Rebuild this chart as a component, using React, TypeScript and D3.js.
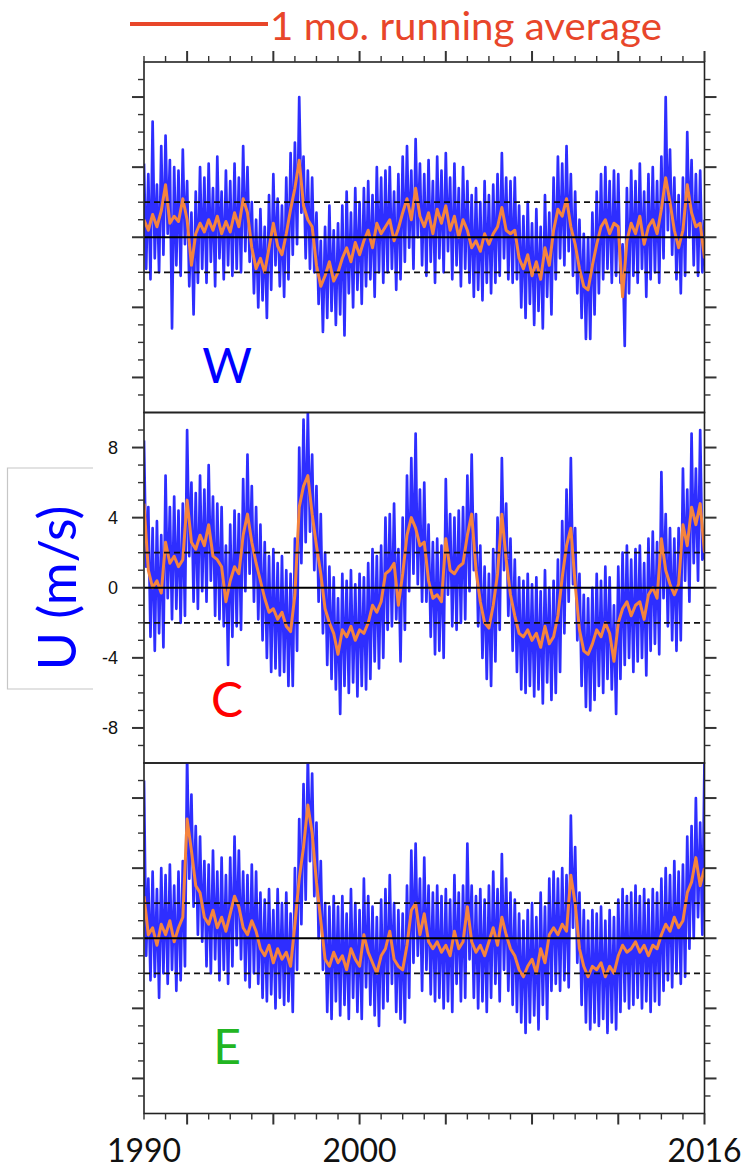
import React from "react";
import * as d3 from "d3";

// ---------------- data ----------------
const START_YEAR = 1990;
const END_YEAR = 2016;
const DAILY_STEP = 0.1; // sampling interval (years) of the blue series
const MONTHLY_STEP = 0.2; // sampling interval (years) of the 1 mo. running average

const panelNames = ["W", "C", "E"];
const panelColors = ["#0000ff", "#ff0000", "#22b522"];
const letterLevels = [-8.3, -7.4, -7.2];
const yMajorTicks = [-8, -4, 0, 4, 8];
const yMinorTicks = d3.range(-9, 10);
const yTickLabels = ["-8", "-4", "0", "4", "8"];
const xMinorTicks = d3.range(1990, 2017);
const xMajorTicks = [1992, 1996, 2000, 2004, 2008, 2012, 2016];
const xTickLabels = [1990, 2000, 2016];
const thresholds = [-2, 2];
const legendLabel = "1 mo. running average";
const yTitle = "U (m/s)";

const blueW = [
  4.2, -1.8, 3.6, -2.4, 6.6, -1.2, 3.0, -2.0, 5.2, -1.0,
  5.8, 0.2, 4.4, -5.2, 4.0, -1.6, 3.8, -2.2, 5.0, -0.4,
  3.2, -2.8, 1.4, -4.4, 2.6, -2.6, 4.0, -1.8, 3.4, -2.6,
  4.2, -1.4, 2.8, -2.8, 4.6, -1.2, 2.6, -2.4, 3.8, -1.6,
  3.2, -2.2, 4.2, -1.8, 3.4, -2.0, 5.2, -0.8, 4.0, -1.4,
  2.0, -3.2, 1.0, -4.0, 1.6, -3.6, 0.6, -4.6, 2.4, -3.0,
  3.6, -1.6, 2.2, -2.8, 1.8, -3.4, 3.4, -2.4, 4.8, -1.0,
  5.4, -0.4, 8.0, 1.4, 4.6, -1.2, 3.8, -1.8, 3.4, -2.0,
  1.4, -3.8, -0.2, -5.4, 0.6, -4.6, 1.8, -4.2, 0.4, -5.0,
  0.8, -4.4, 1.8, -5.6, 2.6, -3.2, 1.4, -4.0, 2.8, -3.0,
  2.0, -3.8, 2.8, -2.8, 3.2, -2.4, 2.4, -3.4, 4.0, -2.0,
  3.4, -2.6, 3.8, -2.0, 4.0, -1.8, 2.6, -3.0, 3.6, -2.4,
  4.6, -1.4, 5.2, -0.6, 3.8, -1.8, 5.6, 0.0, 4.2, -1.6,
  3.6, -2.2, 4.4, -1.4, 3.2, -2.6, 4.6, -1.2, 3.8, -2.0,
  4.8, -0.8, 3.4, -2.4, 4.2, -1.6, 2.8, -2.8, 4.0, -1.8,
  3.2, -2.6, 2.4, -3.4, 2.8, -3.0, 2.0, -3.6, 3.2, -2.6,
  2.4, -3.2, 3.0, -2.6, 3.6, -2.2, 4.8, -1.2, 3.4, -2.4,
  3.2, -2.6, 3.4, -2.4, 1.8, -4.0, 1.2, -4.6, 2.0, -3.8,
  0.8, -5.0, 1.6, -4.2, 0.6, -5.2, 2.4, -3.4, 1.4, -4.4,
  3.4, -2.4, 4.6, -1.2, 4.2, -1.6, 5.2, -0.8, 3.6, -2.2,
  2.6, -3.2, 1.0, -4.6, 0.2, -5.8, 0.0, -5.8, 1.4, -4.4,
  2.6, -3.2, 3.6, -2.4, 4.0, -1.8, 3.2, -2.6, 3.8, -2.2,
  3.6, -2.6, -0.4, -6.2, 2.8, -3.2, 3.8, -2.2, 3.2, -2.6,
  4.2, -1.8, 2.6, -3.4, 3.6, -2.4, 4.0, -2.0, 3.2, -2.6,
  4.6, -1.2, 8.0, 0.4, 5.0, -1.0, 3.4, -2.4, 2.4, -3.2,
  3.4, -2.2, 6.0, 0.0, 4.4, -1.6, 3.6, -2.2, 3.8, -2.0,
  1.0,
];

const orangeW = [
  1.0, 0.4, 1.3, 0.6, 1.5,
  3.0, 0.8, 1.2, 0.9, 2.2,
  1.0, -1.6, 0.2, 0.8, 0.3,
  1.0, 0.4, 1.2, 0.2, 0.9,
  0.3, 1.4, 0.6, 2.2, 1.4,
  -0.6, -1.8, -1.2, -2.0, -0.6,
  0.8, -0.5, -1.0, 0.2, 1.6,
  2.8, 4.4, 1.8, 1.0, 0.6,
  -1.6, -2.8, -2.2, -1.4, -2.5,
  -2.0, -1.2, -0.6, -1.4, -0.3,
  -1.0, -0.2, 0.4, -0.6, 0.8,
  0.2, 0.6, 1.0, -0.2, 0.5,
  1.4, 2.2, 1.0, 2.8, 1.2,
  0.6, 1.4, 0.2, 1.6, 0.8,
  1.8, 0.4, 1.2, 0.0, 1.0,
  0.4, -0.6, -0.2, -0.8, 0.2,
  -0.4, 0.2, 0.6, 1.7, 0.4,
  0.2, 0.4, -1.2, -1.8, -1.0,
  -2.2, -1.4, -2.4, -0.6, -1.6,
  0.4, 1.6, 1.2, 2.2, 0.6,
  -0.4, -1.8, -2.8, -3.0, -1.6,
  -0.4, 0.6, 1.0, 0.2, 0.8,
  0.6, -3.4, -0.2, 0.8, 0.2,
  1.2, -0.4, 0.6, 1.0, 0.2,
  1.6, 3.4, 2.0, 0.4, -0.6,
  0.4, 3.0, 1.4, 0.6, 0.8,
  -1.2,
];

const blueC = [
  8.4, 1.2, 4.6, -2.8, 3.4, -3.6, 3.8, -2.6, 3.0, -3.4,
  6.4, -0.6, 4.6, -1.8, 5.2, -1.2, 4.4, -2.0, 4.8, -1.6,
  9.0, 1.8, 6.0, -0.8, 5.4, -1.2, 6.4, -0.2, 5.6, -0.8,
  7.0, 0.4, 5.2, -1.6, 4.8, -1.8, 4.6, -2.2, 2.4, -4.4,
  3.6, -2.8, 4.4, -2.2, 4.2, -2.4, 6.2, -0.2, 7.6, 0.8,
  5.8, -0.8, 4.6, -1.8, 3.6, -3.0, 2.6, -4.0, 1.8, -4.8,
  2.2, -4.6, 1.4, -5.0, 1.8, -4.8, 1.0, -5.6, 0.8, -5.6,
  2.8, -3.6, 8.0, 1.4, 9.6, 2.6, 10.0, 3.2, 7.6, 1.0,
  5.8, -0.8, 4.2, -2.6, 2.0, -4.4, 1.2, -5.2, 0.6, -5.8,
  -0.6, -7.2, 0.8, -5.6, 0.4, -6.0, 1.0, -5.4, 0.2, -6.2,
  0.8, -5.6, 0.6, -5.8, 1.4, -5.2, 2.2, -4.2, 1.8, -4.6,
  2.4, -4.0, 4.0, -2.4, 4.2, -2.2, 4.8, -1.8, 2.2, -4.2,
  4.0, -2.4, 6.4, -0.2, 7.4, 0.8, 8.8, 0.2, 5.6, -0.8,
  6.0, -0.8, 3.6, -2.8, 2.6, -3.8, 2.8, -3.6, 2.4, -4.0,
  6.2, -0.4, 4.2, -2.2, 4.0, -2.4, 4.4, -2.0, 4.6, -1.8,
  6.4, -0.2, 7.6, 1.0, 4.2, -2.2, 2.4, -4.0, 1.2, -5.2,
  0.8, -5.6, 2.2, -4.2, 4.0, -2.4, 7.4, 1.0, 4.8, -1.6,
  2.8, -3.6, 1.6, -4.8, 0.6, -5.8, 0.4, -6.0, 0.8, -5.6,
  0.2, -6.2, 0.6, -5.8, -0.2, -6.6, 1.0, -5.4, 0.0, -6.4,
  0.4, -6.0, 1.6, -4.8, 3.8, -2.6, 5.6, -0.8, 7.4, 0.2,
  3.4, -3.0, 0.8, -5.6, -0.4, -6.8, -0.6, -7.0, 0.0, -6.4,
  0.8, -5.6, 0.4, -6.0, 1.2, -5.2, 0.6, -5.8, -1.0, -7.2,
  1.2, -5.2, 2.0, -4.4, 2.4, -4.0, 1.6, -4.8, 2.2, -4.2,
  2.4, -4.0, 1.4, -5.0, 2.8, -3.6, 3.2, -3.2, 2.6, -3.8,
  6.6, -0.6, 4.2, -2.2, 3.4, -3.0, 2.8, -3.6, 3.4, -3.0,
  6.8, 0.4, 5.6, -0.8, 8.8, 1.4, 6.8, 0.4, 9.0, 1.6,
  2.0,
];

const orangeC = [
  4.8, 1.0, 0.0, 0.4, -0.3,
  2.6, 1.4, 1.8, 1.2, 1.6,
  5.0, 2.6, 2.2, 3.0, 2.4,
  3.6, 1.8, 1.6, 1.2, -0.8,
  0.4, 1.2, 0.8, 3.0, 4.2,
  2.6, 1.4, 0.4, -0.6, -1.4,
  -1.2, -1.8, -1.4, -2.2, -2.5,
  -0.4, 4.6, 5.8, 6.4, 4.2,
  2.4, 0.8, -1.2, -2.0, -2.6,
  -3.8, -2.4, -2.8, -2.2, -3.0,
  -2.4, -2.6, -2.0, -1.0, -1.4,
  -0.8, 0.8, 1.0, 1.4, -1.0,
  0.8, 3.0, 4.0, 3.4, 2.4,
  2.6, 0.4, -0.6, -0.4, -0.8,
  2.8, 1.0, 0.8, 1.2, 1.4,
  3.0, 4.2, 1.0, -0.8, -2.0,
  -2.3, -1.0, 0.8, 4.2, 1.6,
  -0.4, -1.6, -2.6, -2.8, -2.4,
  -3.0, -2.6, -3.4, -2.2, -3.2,
  -2.8, -1.6, 0.6, 2.4, 3.4,
  0.2, -2.4, -3.6, -3.8, -3.2,
  -2.4, -2.8, -2.0, -2.6, -4.2,
  -2.0, -1.2, -0.8, -1.6, -1.0,
  -0.8, -1.8, -0.4, 0.0, -0.6,
  2.8, 1.0, 0.2, -0.4, 0.2,
  3.6, 2.4, 4.6, 3.6, 4.8,
  2.0,
];

const blueE = [
  9.0, -1.0, 3.4, -2.4, 3.8, -2.2, 2.8, -3.4, 4.0, -2.0,
  3.6, -2.6, 4.2, -1.8, 3.0, -3.0, 3.8, -2.4, 4.4, -1.6,
  10.4, 3.4, 8.2, 1.8, 6.4, 0.2, 5.8, -0.2, 4.4, -1.6,
  4.2, -2.0, 5.0, -1.2, 3.8, -2.4, 4.6, -1.8, 3.6, -2.6,
  4.6, -1.6, 5.8, -0.4, 5.0, -1.2, 3.8, -2.4, 3.6, -2.8,
  4.2, -2.0, 3.8, -2.6, 2.6, -3.4, 2.2, -3.6, 2.8, -3.2,
  1.6, -4.0, 2.8, -3.4, 2.0, -3.8, 2.6, -3.6, 1.4, -4.2,
  4.0, -1.8, 6.8, 0.8, 8.8, 2.2, 10.4, 4.4, 9.4, 2.4,
  6.6, 0.0, 4.4, -1.8, 2.0, -4.2, 1.8, -4.6, 2.4, -3.6,
  1.8, -4.4, 2.4, -3.8, 1.4, -4.6, 2.8, -3.4, 2.0, -4.2,
  1.6, -4.6, 3.4, -2.8, 2.4, -3.8, 1.8, -4.4, 1.2, -5.0,
  2.2, -4.0, 2.8, -3.6, 3.6, -2.6, 2.0, -4.2, 1.6, -4.6,
  1.4, -4.8, 3.0, -3.4, 5.0, -1.4, 5.4, -1.0, 3.4, -3.0,
  4.6, -1.8, 3.0, -3.2, 2.6, -3.6, 3.0, -3.4, 2.4, -4.0,
  2.8, -3.6, 2.2, -4.2, 3.6, -2.6, 2.6, -3.6, 3.0, -3.4,
  5.4, -1.2, 3.0, -3.4, 2.4, -4.0, 2.8, -3.6, 2.2, -4.2,
  3.0, -3.4, 3.8, -2.6, 2.8, -3.6, 4.8, -1.8, 3.4, -3.0,
  2.6, -3.8, 2.2, -4.2, 1.4, -4.8, 1.0, -5.4, 1.6, -4.8,
  2.0, -4.4, 1.2, -5.2, 2.6, -3.8, 1.8, -4.6, 3.4, -3.0,
  3.8, -2.6, 3.4, -3.0, 4.0, -2.4, 3.6, -2.8, 7.0, 0.6,
  5.2, -1.4, 2.6, -3.8, 1.6, -4.8, 1.0, -5.2, 1.6, -4.8,
  1.4, -5.0, 1.8, -4.6, 1.0, -5.4, 1.6, -4.8, 1.2, -5.2,
  2.2, -4.2, 2.8, -3.6, 2.4, -4.0, 2.6, -3.8, 3.0, -3.4,
  2.4, -4.0, 2.8, -3.6, 2.2, -4.2, 2.8, -3.6, 2.6, -3.8,
  3.4, -3.0, 4.0, -2.4, 3.6, -2.8, 4.4, -2.0, 3.8, -2.6,
  4.2, -2.2, 5.8, -0.6, 6.4, 0.0, 8.0, 1.2, 6.6, 0.2,
  10.2,
];

const orangeE = [
  2.4, 0.2, 0.6, -0.4, 0.8,
  0.2, 1.0, -0.2, 0.6, 1.2,
  6.8, 5.0, 3.0, 2.6, 1.2,
  0.8, 1.6, 0.6, 1.2, 0.4,
  1.4, 2.4, 1.8, 0.6, 0.2,
  1.0, 0.4, -0.6, -1.0, -0.4,
  -1.4, -0.6, -1.2, -0.8, -1.6,
  0.8, 3.4, 5.2, 7.6, 6.0,
  3.2, 1.0, -1.2, -1.6, -0.8,
  -1.4, -1.0, -1.8, -0.6, -1.2,
  -1.6, 0.2, -0.8, -1.4, -2.0,
  -1.0, -0.6, 0.4, -1.2, -1.6,
  -1.8, -0.4, 1.6, 2.0, 0.2,
  1.4, -0.2, -0.6, -0.2, -0.8,
  -0.4, -1.0, 0.4, -0.6, -0.2,
  1.8, -0.2, -0.8, -0.4, -1.0,
  -0.2, 0.6, -0.4, 1.2, 0.2,
  -0.6, -1.0, -1.8, -2.2, -1.6,
  -1.2, -2.0, -0.6, -1.4, 0.2,
  0.6, 0.2, 0.8, 0.4, 3.6,
  2.0, -0.6, -1.6, -2.2, -1.6,
  -1.8, -1.4, -2.2, -1.6, -2.0,
  -1.0, -0.4, -0.8, -0.6, -0.2,
  -0.8, -0.4, -1.0, -0.4, -0.6,
  0.2, 0.8, 0.4, 1.2, 0.6,
  1.0, 2.6, 3.2, 4.6, 3.0,
  4.0,
];

const blueSeries = [blueW, blueC, blueE];
const orangeSeries = [orangeW, orangeC, orangeE];

// ---------------- layout ----------------
const W = 744;
const H = 1170;
const X0 = 144;
const X1 = 704.5;
const TOP = 62;
const PH = 350.5;
const BLUE = "#0000ff";
const ORANGE = "#f5843e";
const LEGEND_RED = "#e8462a";
const SANS = "Lato, 'Open Sans', sans-serif";

export default function App() {
  const x = d3.scaleLinear().domain([START_YEAR, END_YEAR]).range([X0, X1]);

  const panels = panelNames.map((name, k) => {
    const y = d3
      .scaleLinear()
      .domain([-10, 10])
      .range([TOP + (k + 1) * PH, TOP + k * PH]);
    const blueLine = d3
      .line<number>()
      .x((_, i) => x(START_YEAR + i * DAILY_STEP))
      .y((d) => y(d));
    const orangeLine = d3
      .line<number>()
      .x((_, i) => x(START_YEAR + i * MONTHLY_STEP))
      .y((d) => y(d));
    return {
      name,
      k,
      y,
      color: panelColors[k],
      blue: blueLine(blueSeries[k]) || "",
      orange: orangeLine(orangeSeries[k]) || "",
    };
  });

  const bottom = TOP + 3 * PH;

  return (
    <div style={{ position: "absolute", left: 0, top: 0 }}>
      <svg width={W} height={H} style={{ display: "block", background: "#fff" }}>
        <defs>
          {panels.map((p) => (
            <clipPath id={`clip${p.k}`} key={p.k}>
              <rect x={X0} y={TOP + p.k * PH} width={X1 - X0} height={PH} />
            </clipPath>
          ))}
        </defs>

        {/* legend */}
        <line x1={130} x2={268} y1={24} y2={24} stroke={LEGEND_RED} strokeWidth={4} />
        <text
          x={270}
          y={40}
          fontFamily={SANS}
          fontSize={38}
          fill={LEGEND_RED}
          textLength={392}
          lengthAdjust="spacingAndGlyphs"
        >
          {legendLabel}
        </text>

        {/* y-axis title with box */}
        <path d="M93,468 H7.5 V689 H93" fill="none" stroke="#c6c6c6" strokeWidth={1.2} />
        <text
          transform="translate(76,588) rotate(-90)"
          textAnchor="middle"
          fontFamily={SANS}
          fontSize={52}
          fill={BLUE}
        >
          {yTitle}
        </text>

        {panels.map((p) => (
          <g key={p.name}>
            <g clipPath={`url(#clip${p.k})`}>
              <path
                d={p.blue}
                fill="none"
                stroke={BLUE}
                strokeOpacity={0.82}
                strokeWidth={2.7}
                strokeLinejoin="round"
              />
              <path
                d={p.orange}
                fill="none"
                stroke={ORANGE}
                strokeWidth={3}
                strokeLinejoin="round"
              />
            </g>
            {thresholds.map((t) => (
              <line
                key={t}
                x1={X0}
                x2={X1}
                y1={p.y(t)}
                y2={p.y(t)}
                stroke="#111"
                strokeWidth={1.8}
                strokeDasharray="6 4"
              />
            ))}
            <line x1={X0} x2={X1} y1={p.y(0)} y2={p.y(0)} stroke="#000" strokeWidth={2} />
            <rect
              x={X0}
              y={TOP + p.k * PH}
              width={X1 - X0}
              height={PH}
              fill="none"
              stroke="#222"
              strokeWidth={1.6}
            />
            {/* y ticks left and right */}
            {yMinorTicks.map((v) => {
              const major = yMajorTicks.includes(v);
              const len = major ? 12 : 6;
              return (
                <g key={v} stroke="#333" strokeWidth={major ? 2 : 1.4}>
                  <line x1={X0 - len} x2={X0} y1={p.y(v)} y2={p.y(v)} />
                  <line x1={X1} x2={X1 + len} y1={p.y(v)} y2={p.y(v)} />
                </g>
              );
            })}
            {p.name === "C" &&
              yMajorTicks.map((v, i) => (
                <text
                  key={v}
                  x={118}
                  y={p.y(v)}
                  textAnchor="end"
                  dominantBaseline="central"
                  fontFamily="'Liberation Sans', Arial, sans-serif"
                  fontSize={18}
                  fill="#111"
                >
                  {yTickLabels[i]}
                </text>
              ))}
            <text
              x={227}
              y={p.y(letterLevels[p.k])}
              textAnchor="middle"
              fontFamily={SANS}
              fontSize={48}
              fill={p.color}
            >
              {p.name}
            </text>
          </g>
        ))}

        {/* top and bottom year ticks */}
        {xMinorTicks.map((yr) => {
          const major = xMajorTicks.includes(yr);
          const len = major ? 11 : 6;
          return (
            <g key={yr} stroke="#333" strokeWidth={major ? 2 : 1.4}>
              <line x1={x(yr)} x2={x(yr)} y1={TOP - len} y2={TOP} />
              <line x1={x(yr)} x2={x(yr)} y1={bottom} y2={bottom + len} />
            </g>
          );
        })}

        {xTickLabels.map((yr) => (
          <text
            key={yr}
            x={x(yr)}
            y={1162}
            textAnchor="middle"
            fontFamily={SANS}
            fontSize={32}
            fill="#111"
          >
            {yr}
          </text>
        ))}
      </svg>
    </div>
  );
}
